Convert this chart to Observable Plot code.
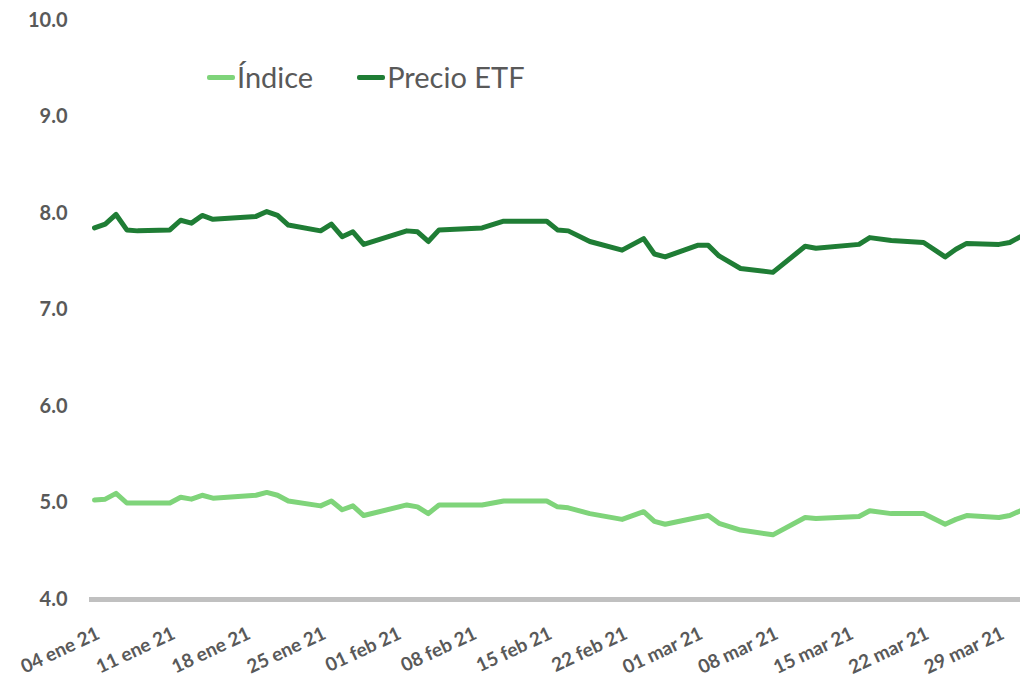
<!DOCTYPE html>
<html><head><meta charset="utf-8">
<script src="https://cdn.jsdelivr.net/npm/d3@7"></script>
<script src="https://cdn.jsdelivr.net/npm/@observablehq/plot@0.6"></script>
<style>
body{margin:0;background:#fff;}
#wrap{position:relative;width:1020px;height:684px;}
#legend{position:absolute;left:207px;top:60px;display:flex;gap:44px;font-family:Lato,sans-serif;font-size:29px;line-height:34px;color:#595959;}
.item{display:flex;align-items:center;}
.sw{width:28px;height:5px;border-radius:2px;margin-right:2px}
</style></head><body><div id="wrap"><div id="legend"></div></div>
<script>
const fechas = ["2021-01-04","2021-01-05","2021-01-06","2021-01-07","2021-01-08","2021-01-11","2021-01-12","2021-01-13","2021-01-14","2021-01-15",
"2021-01-19","2021-01-20","2021-01-21","2021-01-22","2021-01-25","2021-01-26","2021-01-27","2021-01-28","2021-01-29",
"2021-02-02","2021-02-03","2021-02-04","2021-02-05","2021-02-09","2021-02-11","2021-02-15","2021-02-16","2021-02-17","2021-02-19",
"2021-02-22","2021-02-24","2021-02-25","2021-02-26","2021-03-01","2021-03-02","2021-03-03","2021-03-05","2021-03-08",
"2021-03-11","2021-03-12","2021-03-16","2021-03-17","2021-03-19","2021-03-22","2021-03-24","2021-03-25","2021-03-26",
"2021-03-29","2021-03-30","2021-03-31"];
const indice = [5.03,5.04,5.10,5.00,5.00,5.00,5.06,5.04,5.08,5.05,
5.08,5.11,5.08,5.02,4.97,5.02,4.93,4.97,4.87,
4.98,4.96,4.89,4.98,4.98,5.02,5.02,4.96,4.95,4.89,
4.83,4.91,4.81,4.78,4.85,4.87,4.79,4.72,4.67,
4.85,4.84,4.86,4.92,4.89,4.89,4.78,4.83,4.87,
4.85,4.87,4.92];
const precioETF = [7.85,7.89,7.99,7.83,7.82,7.83,7.93,7.90,7.98,7.94,
7.97,8.02,7.98,7.88,7.82,7.89,7.76,7.81,7.68,
7.82,7.81,7.71,7.83,7.85,7.92,7.92,7.83,7.82,7.71,
7.62,7.74,7.58,7.55,7.67,7.67,7.56,7.43,7.39,
7.66,7.64,7.68,7.75,7.72,7.70,7.55,7.63,7.69,
7.68,7.70,7.76];
const series = ["Índice","Precio ETF"];
const colores = ["#7fd47a","#1f7d35"];
const yTicks = [4,5,6,7,8,9,10];
const xTicks = ["2021-01-04","2021-01-11","2021-01-18","2021-01-25","2021-02-01","2021-02-08","2021-02-15","2021-02-22","2021-03-01","2021-03-08","2021-03-15","2021-03-22","2021-03-29"];
const meses = ["ene","feb","mar"];
const dominioX = ["2021-01-04","2021-03-31"];

const parse = d3.utcParse("%Y-%m-%d");
const fmt = d => d3.utcFormat("%d")(d) + " " + meses[d.getUTCMonth()] + " " + d3.utcFormat("%y")(d);
const data = [];
fechas.forEach((f, i) => {
  data.push({fecha: parse(f), serie: series[0], valor: indice[i]});
  data.push({fecha: parse(f), serie: series[1], valor: precioETF[i]});
});

const chart = Plot.plot({
  width: 1020, height: 684,
  marginLeft: 94, marginRight: 0, marginTop: 20, marginBottom: 85,
  style: {fontFamily: "Lato, sans-serif", background: "#fff"},
  x: {type: "utc", domain: dominioX.map(parse), label: null},
  y: {domain: [4, 10], label: null},
  color: {domain: series, range: colores},
  marks: [
    Plot.ruleY([4], {stroke: "#c0c0c0", strokeWidth: 5, insetLeft: -5}),
    Plot.line(data, {x: "fecha", y: "valor", stroke: "serie", z: "serie", strokeWidth: 5, strokeLinejoin: "round"}),
    Plot.axisY({ticks: yTicks, tickFormat: d3.format(".1f"), tickSize: 0, tickPadding: 27, fontSize: 20, fontWeight: "bold", fill: "#595959", label: null}),
    Plot.axisX({ticks: xTicks.map(parse), tickFormat: fmt, tickSize: 0, tickPadding: 33, dx: 4, tickRotate: -25, textAnchor: "end", fontSize: 19, fontWeight: "bold", fill: "#595959", label: null})
  ]
});
document.getElementById("wrap").prepend(chart);

const leg = document.getElementById("legend");
series.forEach((s, i) => {
  const it = document.createElement("div"); it.className = "item";
  const sw = document.createElement("span"); sw.className = "sw"; sw.style.background = colores[i];
  const tx = document.createElement("span"); tx.textContent = s;
  it.append(sw, tx); leg.append(it);
});
</script></body></html>
